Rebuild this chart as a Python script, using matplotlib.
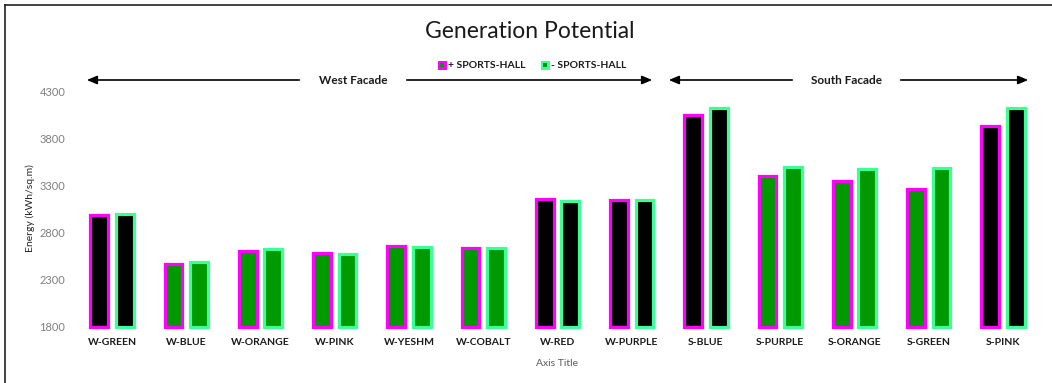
import matplotlib
matplotlib.use("Agg")
import matplotlib.pyplot as plt
from matplotlib.lines import Line2D
from matplotlib.patches import Rectangle, FancyArrowPatch
import numpy as np

plt.rcParams['font.family'] = ['Lato', 'DejaVu Sans']

categories = ["W-GREEN", "W-BLUE", "W-ORANGE", "W-PINK", "W-YESHM", "W-COBALT",
              "W-RED", "W-PURPLE", "S-BLUE", "S-PURPLE", "S-ORANGE", "S-GREEN", "S-PINK"]
with_hall = [2980, 2469, 2608, 2579, 2656, 2639, 3157, 3140, 4047, 3398, 3342, 3257, 3930]
without_hall = [2994, 2490, 2625, 2568, 2650, 2635, 3135, 3146, 4122, 3494, 3469, 3486, 4122]
dark_fill = [True, False, False, False, False, False, True, True, True, False, False, False, True]
y_ticks = [1800, 2300, 2800, 3300, 3800, 4300]

W, H = 1052, 383
fig = plt.figure(figsize=(W / 100, H / 100), dpi=100)
ax = fig.add_axes([75 / W, 1 - 326.7 / H, (1040 - 75) / W, (326.7 - 91) / H])

magenta = "#FF00FF"
spring = "#3CFF96"
green = "#009900"
fills = ["#000000" if d else green for d in dark_fill]

x = np.arange(len(categories))
bw = 0.24
off = 0.172
ax.bar(x - off, np.array(with_hall) - 1800, bw, bottom=1800, color=fills,
       edgecolor=magenta, linewidth=2.3, clip_on=False, zorder=3)
ax.bar(x + off, np.array(without_hall) - 1800, bw, bottom=1800, color=fills,
       edgecolor=spring, linewidth=2.3, clip_on=False, zorder=3)

ax.set_xlim(-0.5, len(categories) - 0.5)
ax.set_ylim(1800, 4300)
ax.set_yticks(y_ticks)
ax.set_yticklabels([str(t) for t in y_ticks], color="#7F7F7F", fontsize=8)
ax.set_xticks(x)
ax.set_xticklabels(categories, fontsize=7.5, fontweight="bold", color="#1a1a1a")
ax.tick_params(axis="both", length=0)
ax.tick_params(axis="x", pad=8)
ax.tick_params(axis="y", pad=7)
for s in ax.spines.values():
    s.set_visible(False)

ax.set_xlabel("Axis Title", color="#595959", fontsize=7.5, labelpad=9)
fig.text(30 / W, 1 - 208 / H, "Energy (kWh/sq.m)", rotation=90, ha="center",
         va="center", fontsize=7.5, color="#262626")

# Title
fig.text(530 / W, 1 - 31 / H, "Generation Potential", ha="center", va="center",
         fontsize=16.5, color="#1a1a1a")

# Legend
def legend_marker(xc, yc, outer, inner):
    s = 9
    fig.add_artist(Rectangle(((xc - s / 2) / W, 1 - (yc + s / 2) / H), s / W, s / H,
                             transform=fig.transFigure, facecolor=outer, edgecolor="none"))
    t = 4
    fig.add_artist(Rectangle(((xc - t / 2) / W, 1 - (yc + t / 2) / H), t / W, t / H,
                             transform=fig.transFigure, facecolor=inner, edgecolor="none"))

legend_marker(442, 65, magenta, green)
fig.text(448 / W, 1 - 65 / H, "+ SPORTS-HALL", ha="left", va="center",
         fontsize=7.5, fontweight="bold", color="#1a1a1a")
legend_marker(545, 65, spring, green)
fig.text(551 / W, 1 - 65 / H, "- SPORTS-HALL", ha="left", va="center",
         fontsize=7.5, fontweight="bold", color="#1a1a1a")

# Facade span arrows
def span_arrow(x0, x1, tx0, tx1, label):
    yy = 1 - 80 / H
    akw = dict(arrowstyle="-|>,head_length=0.6,head_width=0.25", color="black", lw=1.2)
    fig.add_artist(FancyArrowPatch((tx0 / W, yy), (x0 / W, yy),
                   transform=fig.transFigure, mutation_scale=10, **akw))
    fig.add_artist(FancyArrowPatch((tx1 / W, yy), (x1 / W, yy),
                   transform=fig.transFigure, mutation_scale=10, **akw))
    fig.text((tx0 + tx1) / 2 / W, yy, label, ha="center", va="center",
             fontsize=8.5, fontweight="bold", color="#1a1a1a")

span_arrow(84, 655, 302, 404, "West Facade")
span_arrow(666, 1031, 795, 898, "South Facade")

# Outer frame
fig.add_artist(Line2D([4.5 / W, 1], [1 - 4.5 / H, 1 - 4.5 / H], transform=fig.transFigure,
                      color="#222222", lw=1.2))
fig.add_artist(Line2D([4.5 / W, 4.5 / W], [0, 1 - 4.5 / H], transform=fig.transFigure,
                      color="#222222", lw=1.2))

fig.savefig("out.png", dpi=100)
